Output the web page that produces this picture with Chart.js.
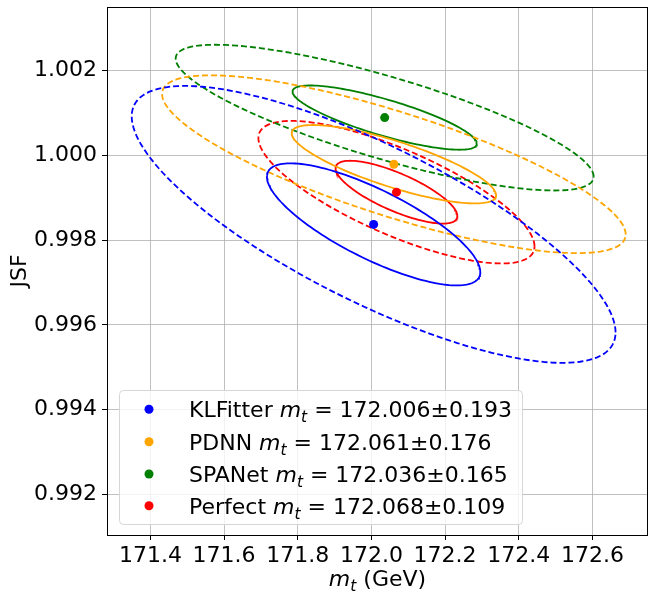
<!DOCTYPE html>
<html>
<head>
<meta charset="utf-8">
<script src="https://cdn.jsdelivr.net/npm/chart.js@4.4.0/dist/chart.umd.min.js"></script>
<style>
  html, body { margin: 0; padding: 0; background: #fff; }
  #wrap { width: 648px; height: 594px; position: relative; }
</style>
</head>
<body>
<div id="wrap"><canvas id="chart" width="648" height="594"></canvas></div>
<script>
// Fit results per reconstruction method
const methods = ['KLFitter', 'PDNN', 'SPANet', 'Perfect'];
const colors = ['blue', 'orange', 'green', 'red'];
const mtFit = [172.006, 172.061, 172.036, 172.068];
const mtErr = [0.193, 0.176, 0.165, 0.109];
const jsfFit = [0.99837, 0.99979, 1.00089, 0.99913];

// Contour shape
const sigmaMt = [0.191, 0.183, 0.165, 0.109];
const sigmaJsf = [0.00095, 0.00061, 0.00050, 0.000489];
const rho = [-0.78, -0.79, -0.81, -0.76];

// delta chi2 levels of the two contours (68.27% solid, 99.73% dashed)
const levels = [2.30, 11.83];
const levelDash = [[], [6, 3]];

const xTicks = [171.4, 171.6, 171.8, 172.0, 172.2, 172.4, 172.6];
const yTicks = [0.992, 0.994, 0.996, 0.998, 1.000, 1.002];

const FONT = 'DejaVu Sans';
const FS = 22;

// points on the contour of a 2D gaussian
function ellipse(i, level) {
    const k = Math.sqrt(level);
    const r = rho[i];
    const pts = [];
    const n = 160;
    for (let j = 0; j <= n; j++) {
        const t = 2 * Math.PI * j / n;
        pts.push({
            x: mtFit[i] + k * sigmaMt[i] * Math.cos(t),
            y: jsfFit[i] + k * sigmaJsf[i] * (r * Math.cos(t) + Math.sqrt(1 - r * r) * Math.sin(t))
        });
    }
    return pts;
}

const datasets = [];
methods.forEach((m, i) => {
    datasets.push({
        label: m,
        data: [{ x: mtFit[i], y: jsfFit[i] }],
        backgroundColor: colors[i],
        borderWidth: 0,
        pointRadius: 4.5,
        showLine: false
    });
});
methods.forEach((m, i) => {
    levels.forEach((lv, li) => {
        datasets.push({
            label: m + ' contour ' + li,
            data: ellipse(i, lv),
            borderColor: colors[i],
            borderWidth: 1.8,
            borderDash: levelDash[li],
            pointRadius: 0,
            showLine: true,
            fill: false,
            tension: 0
        });
    });
});

// text with italic m and subscript t
function drawRuns(ctx, runs, x, y, size) {
    let cx = x;
    runs.forEach(r => {
        const sz = r.sub ? size * 0.7 : size;
        ctx.font = (r.italic ? 'italic ' : '') + sz + 'px "' + FONT + '"';
        ctx.fillText(r.text, cx, r.sub ? y + size * 0.22 : y);
        cx += ctx.measureText(r.text).width;
    });
    return cx - x;
}
function runsWidth(ctx, runs, size) {
    let w = 0;
    runs.forEach(r => {
        const sz = r.sub ? size * 0.7 : size;
        ctx.font = (r.italic ? 'italic ' : '') + sz + 'px "' + FONT + '"';
        w += ctx.measureText(r.text).width;
    });
    return w;
}

const decor = {
    id: 'decor',
    afterDraw(chart) {
        const ctx = chart.ctx;
        const a = chart.chartArea;
        ctx.save();
        // frame
        ctx.strokeStyle = '#000';
        ctx.lineWidth = 1;
        ctx.strokeRect(a.left + 0.5, a.top + 0.5, a.right - a.left - 1, a.bottom - a.top);

        // legend box
        ctx.beginPath();
        ctx.roundRect(119.5, 390.5, 403, 134, 4);
        ctx.fillStyle = 'rgba(255,255,255,0.8)';
        ctx.fill();
        ctx.strokeStyle = '#d6d6d6';
        ctx.stroke();
        const rows = [409.3, 441.7, 474, 505.7];
        ctx.textAlign = 'left';
        ctx.textBaseline = 'alphabetic';
        methods.forEach((m, i) => {
            ctx.beginPath();
            ctx.arc(149, rows[i], 4.5, 0, 2 * Math.PI);
            ctx.fillStyle = colors[i];
            ctx.fill();
            ctx.fillStyle = '#000';
            drawRuns(ctx, [
                { text: m + ' ' },
                { text: 'm', italic: true },
                { text: 't', italic: true, sub: true },
                { text: ' = ' + mtFit[i].toFixed(3) + '\u00b1' + mtErr[i].toFixed(3) }
            ], 189, rows[i] + 8, FS);
        });

        // x axis title
        const xr = [
            { text: 'm', italic: true },
            { text: 't', italic: true, sub: true },
            { text: ' (GeV)' }
        ];
        const w = runsWidth(ctx, xr, FS);
        ctx.fillStyle = '#000';
        drawRuns(ctx, xr, (a.left + a.right) / 2 - w / 2, 586, FS);

        // y axis title
        ctx.translate(26, (a.top + a.bottom) / 2);
        ctx.rotate(-Math.PI / 2);
        ctx.textAlign = 'center';
        ctx.font = FS + 'px "' + FONT + '"';
        ctx.fillText('JSF', 0, 0);
        ctx.restore();
    }
};

const tickFont = { size: FS, family: FONT };
const gridOpts = { color: '#b0b0b0', lineWidth: 0.8, tickColor: '#000', tickLength: 5, tickWidth: 1 };

new Chart(document.getElementById('chart'), {
    type: 'scatter',
    data: { datasets: datasets },
    options: {
        responsive: false,
        animation: false,
        layout: { autoPadding: false, padding: { top: 7, right: 0, left: 0, bottom: 0 } },
        plugins: { legend: { display: false }, tooltip: { enabled: false } },
        scales: {
            x: {
                type: 'linear',
                min: 171.282,
                max: 172.751,
                afterBuildTicks: s => { s.ticks = xTicks.map(v => ({ value: v })); },
                afterFit: s => { s.height = 59; s.paddingLeft = 0; s.paddingRight = 0; },
                ticks: { callback: v => v.toFixed(1), font: tickFont, color: '#000', padding: 3, maxRotation: 0, autoSkip: false },
                grid: gridOpts,
                border: { color: '#000', width: 1 }
            },
            y: {
                type: 'linear',
                min: 0.99104,
                max: 1.0035,
                afterBuildTicks: s => { s.ticks = yTicks.map(v => ({ value: v })); },
                afterFit: s => { s.width = 107; s.paddingTop = 0; s.paddingBottom = 0; },
                ticks: { callback: v => v.toFixed(3), font: tickFont, color: '#000', padding: 5, autoSkip: false },
                grid: gridOpts,
                border: { color: '#000', width: 1 }
            }
        }
    },
    plugins: [decor]
});
</script>
</body>
</html>
